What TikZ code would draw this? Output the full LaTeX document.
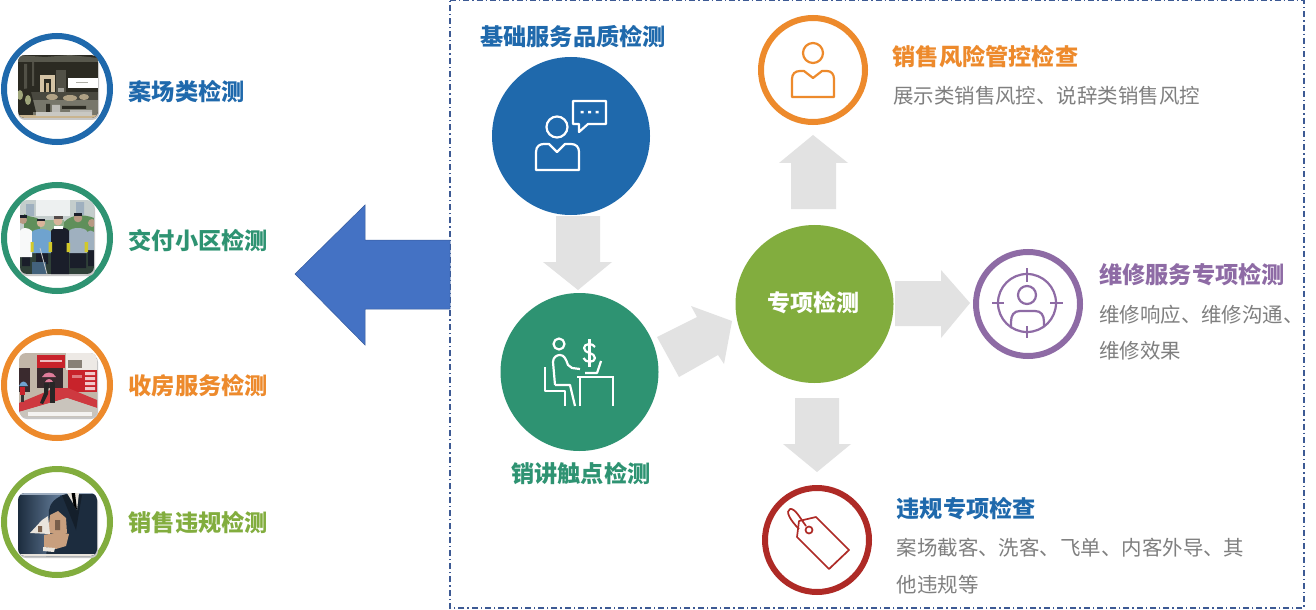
\documentclass[tikz,border=0pt]{standalone}
\usepackage{fontspec}
\setmainfont{Noto Sans CJK SC}
\definecolor{cblue}{HTML}{1F69AC}
\definecolor{cgreen}{HTML}{2E9372}
\definecolor{clime}{HTML}{82AD3E}
\definecolor{corange}{HTML}{ED8A2C}
\definecolor{cpurple}{HTML}{8E6BA5}
\definecolor{cred}{HTML}{AE2A26}
\definecolor{cgrey}{HTML}{E2E2E2}
\definecolor{ctext}{HTML}{7F7F7F}
\definecolor{carrow}{HTML}{4472C4}
\definecolor{cframe}{HTML}{3D5A94}
\definecolor{ph1}{HTML}{2B2A22}
\definecolor{ph2}{HTML}{77766A}
\definecolor{ph3}{HTML}{C9B48F}
\definecolor{ph4}{HTML}{C4CDCC}
\definecolor{ph5}{HTML}{5F8F5A}
\definecolor{ph6}{HTML}{1A1E2A}
\definecolor{ph7}{HTML}{6FA3CF}
\definecolor{ph8}{HTML}{9FB0BF}
\definecolor{ph9}{HTML}{D9B49A}
\definecolor{pa1}{HTML}{C2B6A8}
\definecolor{pa2}{HTML}{C8232B}
\definecolor{pa3}{HTML}{E07C9A}
\definecolor{pa4}{HTML}{3A2A2E}
\definecolor{pa5}{HTML}{C9C4BC}
\definecolor{pb1}{HTML}{3D5C80}
\definecolor{pb2}{HTML}{1C2C3E}
\definecolor{pb3}{HTML}{C89F7E}
\definecolor{pb4}{HTML}{E9E4DC}
\tikzset{
  disc/.style={circle,fill=#1,draw=none,minimum size=158bp,inner sep=0pt},
  ring/.style={circle,draw=#1,fill=white,line width=6bp,minimum size=104bp,inner sep=0pt},
  leftring/.style={circle,draw=#1,fill=white,line width=6bp,minimum size=106bp,inner sep=0pt},
  headtext/.style={inner sep=0pt,anchor=base west,font=\fontsize{23.2bp}{28bp}\selectfont\bfseries,text=#1},
  bodytext/.style={inner sep=0pt,anchor=base west,font=\fontsize{20.45bp}{24bp}\selectfont,text=ctext},
  blockarrow/.style={fill=cgrey,draw=none},
  icon/.style={draw=#1,line width=2.2bp,line join=round,fill=none},
  rim/.style={rounded corners=7bp},
  photoshadow/.style={fill=black!22,rounded corners=7bp},
}
\begin{document}
\begin{tikzpicture}[x=1bp,y=-1bp]
\useasboundingbox (0,0) rectangle (1316,610);
\fill[white] (0,0) rectangle (1316,610);

% dashed frame
\draw[cframe,line width=1.3bp,dash pattern=on 6bp off 3bp on 1.3bp off 3bp] (450,0.7) -- (1304,0.7) -- (1304,608) -- (450,608) -- cycle;

% big left arrow
\fill[carrow,draw=carrow!80!black,line width=.5bp] (295,274) -- (365,205) -- (365,240) -- (450,240) -- (450,309) -- (365,309) -- (365,345) -- cycle;

% grey block arrows
\fill[blockarrow] (556,216) -- (600,216) -- (600,262) -- (612,262) -- (578,290) -- (543,262) -- (556,262) -- cycle;
\fill[blockarrow] (657,337) -- (697,317) -- (691,306) -- (732,321) -- (724,364) -- (718,355) -- (679,377) -- cycle;
\fill[blockarrow] (791,209) -- (791,163) -- (779,163) -- (813,135) -- (848,163) -- (836,163) -- (836,209) -- cycle;
\fill[blockarrow] (895,281) -- (941,281) -- (941,270) -- (970,303) -- (941,338) -- (941,326) -- (895,326) -- cycle;
\fill[blockarrow] (795,398) -- (839,398) -- (839,444) -- (851,444) -- (817,472) -- (783,444) -- (795,444) -- cycle;

% filled circles
\node[disc=cblue] (base) at (571,136) {};
\node[disc=cgreen] (sales) at (579.5,372) {};
\node[disc=clime] (special) at (814.5,304) {};
\node[font=\fontsize{23bp}{28bp}\selectfont\bfseries,text=white,inner sep=0pt,anchor=base] (speciallabel) at (813,311.5) {专项检测};

% rings on the right
\node[ring=corange] (risk) at (813,70) {};
\node[ring=cpurple] (repair) at (1028,304) {};
\node[ring=cred] (viol) at (817,540) {};

% rings on the left
\node[leftring=cblue] (p1) at (57,89) {};
\node[leftring=cgreen] (p2) at (57,238) {};
\node[leftring=corange] (p3) at (57,385) {};
\node[leftring=clime] (p4) at (57,522) {};

% icon: person with speech bubble
\draw[icon=white] (557,127) circle (10.5);
\draw[icon=white] (536,170) -- (536,152) .. controls (536,146) and (540,144) .. (544,144) -- (549,144) -- (557,152) -- (565,144) -- (571,144) .. controls (576,144) and (579,147) .. (579,152) -- (579,170) -- cycle;
\draw[icon=white] (573,101) -- (606,101) -- (606,124) -- (588,124) -- (579,132) -- (579,124) -- (573,124) -- cycle;
\fill[white] (580.5,111) rectangle +(3,2.4) (588,111) rectangle +(3,2.4) (595.5,111) rectangle +(3,2.4);

% icon: person at a desk
\draw[icon=white] (559,344) circle (5.5);
\draw[icon=white] (555,385) -- (553,362) .. controls (553,357) and (557,355) .. (560,355) .. controls (564,355) and (566,359) .. (568,365) -- (572,368) -- (580,369);
\draw[icon=white] (555,385) -- (570,385) -- (575,406);
\draw[icon=white] (545,367) -- (545,391) -- (565,391) -- (565,406);
\draw[icon=white] (577,377) -- (614,377);
\draw[icon=white] (580,377) -- (580,406);
\draw[icon=white] (613,377) -- (613,406);
\draw[icon=white] (585,373) -- (597,373) -- (601,361);
\draw[icon=white] (595,347) .. controls (593,343) and (584,343) .. (584,348) .. controls (584,354) and (595,352) .. (595,358) .. controls (595,363) and (585,363) .. (583.5,358);
\draw[icon=white] (589.5,339) -- (589.5,367);

% icon: orange person
\draw[icon=corange] (813,53) circle (10);
\draw[icon=corange] (792,97) -- (792,79) .. controls (792,74) and (795,71) .. (800,71) -- (804,71) -- (813,78) -- (822,71) -- (827,71) .. controls (831,71) and (834,74) .. (834,79) -- (834,97) -- cycle;

% icon: target person
\draw[icon=cpurple] (1027,303) circle (29);
\draw[icon=cpurple] (1027,295) circle (9);
\draw[icon=cpurple] (1027,268) -- (1027,282);
\draw[icon=cpurple] (1027,326) -- (1027,338);
\draw[icon=cpurple] (992,303) -- (1004,303);
\draw[icon=cpurple] (1050,303) -- (1063,303);
\draw[icon=cpurple] (1011,328) -- (1011,322) .. controls (1011,315) and (1014,311) .. (1020,311) -- (1035,311) .. controls (1041,311) and (1044,315) .. (1044,322) -- (1044,327);

% icon: price tag
\draw[icon=cred,line width=1.7bp] (799,521) -- (816,517) -- (849,550) -- (829,569) -- (797,537) -- cycle;
\draw[icon=cred,line width=1.7bp] (809,530) circle (3.5);
\draw[icon=cred,line width=1.7bp] (806,526) .. controls (800,518) and (795,508) .. (790,509) .. controls (785,511) and (790,520) .. (799,529);

% photo 1: showroom
\fill[photoshadow] (18,57) rectangle (99,120);
\begin{scope}
\clip[rim] (18,55) rectangle (98,118);
\fill[ph1] (18,55) rectangle (98,118);
\fill[ph2!60!ph1] (18,55) -- (45,57) -- (70,55) -- (98,58) -- (98,62) -- (18,62) -- cycle;
\fill[ph2!50!ph1] (24,64) rectangle (27,90) (32,62) rectangle (34,86);
\fill[ph3!80!white] (40,75) rectangle (55,93);
\fill[ph1] (44,79) rectangle (51,93);
\fill[ph3] (46,83) rectangle (49,93);
\fill[ph2!50!ph1] (56,70) rectangle (66,92);
\fill[ph2!70!white] (58,88) rectangle (64,96);
\fill[ph2!40!ph1] (18,92) rectangle (98,100);
\fill[ph2] (33,100) rectangle (98,118);
\fill[ph3!70!ph2] (52,97) ellipse (6 and 3) (70,98) ellipse (7 and 3) (84,97) ellipse (5 and 3);
\fill[ph1] (46,104) rectangle (50,115) (62,106) rectangle (86,109);
\fill[ph2!50!white] (52,105) rectangle (60,112) (70,110) rectangle (92,116);
\fill[ph1] (18,90) -- (30,88) -- (36,112) -- (18,112) -- cycle;
\fill[ph3!60!ph5] (20,95) ellipse (3 and 5) (28,100) ellipse (3 and 5);
\fill[white] (68,78) rectangle (98,88);
\fill[ph2!60!white] (76,82.5) rectangle (88,83.5);
\fill[ph3] (18,115) rectangle (98,118);
\fill[ph2!40!white] (36,112) rectangle (92,116);
\end{scope}

% photo 2: staff
\fill[photoshadow] (20,202) rectangle (95,276);
\begin{scope}
\clip[rim] (20,200) rectangle (94,274);
\fill[ph4] (20,200) rectangle (94,274);
\fill[white!70!ph4] (36,200) rectangle (70,216);
\fill[ph8] (26,204) rectangle (34,216) (76,202) rectangle (84,215);
\fill[ph5] (24,214) .. controls (30,218) and (36,216) .. (40,220) -- (40,235) -- (24,235) -- cycle;
\fill[ph5] (64,222) .. controls (72,214) and (84,214) .. (94,218) -- (94,236) -- (64,236) -- cycle;
\fill[ph5!70!white] (40,220) rectangle (64,232);
\fill[ph6!70!ph5] (20,252) rectangle (94,274);
% legs
\fill[ph6] (22,252) rectangle (30,266) (36,252) rectangle (48,264) (70,252) rectangle (86,268) (88,250) rectangle (94,266);
% staff figures
\fill[white!88!ph4] (20,231) .. controls (22,227) and (28,227) .. (32,231) -- (32,257) -- (20,257) -- cycle;
\fill[ph9!85!black] (23,220) circle (4);
\fill[ph6] (19,215) rectangle (27,218);
\fill[ph7] (32,232) .. controls (35,228) and (47,228) .. (51,232) -- (51,253) -- (32,253) -- cycle;
\fill[ph9] (41,223) circle (4.2);
\fill[ph6] (36.8,218.5) rectangle (45.2,221);
\fill[ph8] (69,231) .. controls (72,227) and (84,227) .. (87,231) -- (87,253) -- (69,253) -- cycle;
\fill[ph9!85!black] (78,218) circle (4.3);
\fill[ph6] (73.7,213) rectangle (82.3,215.5);
\fill[ph8] (87,232) .. controls (89,230) and (92,230) .. (94,232) -- (94,250) -- (87,250) -- cycle;
\fill[ph9!85!black] (92,223) circle (4);
\fill[ph6] (51,231) .. controls (54,226) and (66,226) .. (69,231) -- (69,274) -- (51,274) -- cycle;
\fill[ph9] (58,221) circle (4.5);
\fill[ph6!70!ph9] (53.5,216) rectangle (62.5,219);
\fill[white] (54,226) rectangle (63,229);
\fill[yellow!80!black] (30.5,242) rectangle (33.5,252) (48.5,242) rectangle (52,252) (66.5,243) rectangle (70,252) (84.5,242) rectangle (88,252);
\fill[ph7!60!black] (32,262) rectangle (46,274);
\draw[white!80!black,line width=.8bp] (40,248) -- (47,274);
\end{scope}

% photo 3: sales office in the rain
\fill[photoshadow] (20,355) rectangle (98,419);
\begin{scope}
\clip[rim] (19,353) rectangle (97,417);
\fill[pa1] (19,353) rectangle (97,417);
\fill[white!70!pa1] (66,353) rectangle (97,370);
\fill[pa1!70!black] (68,360) rectangle (82,368);
\fill[pa2] (37,355) rectangle (65,368);
\fill[white!70!pa2] (40,360) rectangle (62,362);
\fill[pa4] (19,368) rectangle (30,392);
\fill[pa4] (37,368) rectangle (63,388);
\fill[pa2] (68,370) rectangle (97,392);
\fill[white!75!pa2] (85,372) rectangle (95,375) (85,377) rectangle (95,380) (85,382) rectangle (95,385) (85,387) rectangle (95,390);
\fill[white!40!pa2] (72,375) rectangle (82,378);
\fill[pa2!90!white] (19,412) -- (19,403) -- (55,388) -- (68,388) -- (97,400) -- (97,408) -- (67,398) -- cycle;
\fill[pa5] (19,412) -- (67,398) -- (97,408) -- (97,417) -- (19,417) -- cycle;
\fill[white!80!pa5] (28,412) rectangle (92,416);
\fill[pa3] (42,377) .. controls (45,371) and (53,371) .. (56,377) -- cycle;
\fill[pa3] (45,382) .. controls (47,378) and (51,378) .. (53,382) -- cycle;
\fill[ph7] (19,386) .. controls (21,380) and (26,380) .. (28,386) -- cycle;
\fill[black!85] (44,383) -- (49,383) -- (48,394) -- (43,404) -- (40,403) -- (44,393) -- cycle;
\fill[black!85] (50,382) rectangle (55,403);
\fill[pa2] (20,387) rectangle (25,395);
\fill[black!80] (21,395) rectangle (24,402);
\end{scope}

% photo 4: suit holding a house
\fill[photoshadow] (19,495) rectangle (98,558);
\begin{scope}
\clip[rim] (18,493) rectangle (97,556);
\shade[left color=pb2,right color=pb1!80!white] (18,493) rectangle (60,556);
\fill[pb1] (60,493) rectangle (97,556);
\fill[pb1!50!white] (18,493) rectangle (97,495);
\fill[pb2] (46,556) -- (48,540) -- (49,510) .. controls (50,503) and (56,497) .. (66,494) -- (97,494) -- (97,556) -- cycle;
\fill[pb2!70!black] (62,495) -- (76,530) -- (82,495) -- cycle;
\fill[pb4] (67,493) -- (79,493) -- (77,510) -- cycle;
\fill[black] (71.5,493) -- (75,493) -- (77,510) -- (73.5,505) -- cycle;
\fill[pb3] (44,535) -- (60,532) -- (69,534) -- (66,546) -- (56,549) -- (44,547) -- cycle;
\fill[pb4] (43,547) -- (55,548) -- (54,552) -- (43,551) -- cycle;
\fill[pb3] (48,533) -- (50,515) -- (58,511) -- (66,518) -- (67,533) -- cycle;
\fill[pb4] (30,533) -- (42,520) -- (48,516) -- (50,534) -- cycle;
\fill[pb3!60!black] (38,526) rectangle (42,532) (55,520) rectangle (60,530);
\fill[pb4] (18,554) rectangle (97,556);
\end{scope}

% labels on the left
\node[headtext=cblue] (t1) at (128.5,100.5) {案场类检测};
\node[headtext=cgreen] (t2) at (128.5,249.5) {交付小区检测};
\node[headtext=corange] (t3) at (128.5,394.5) {收房服务检测};
\node[headtext=clime] (t4) at (128.5,531.5) {销售违规检测};

% labels in the frame
\node[headtext=cblue] (t5) at (480,45.5) {基础服务品质检测};
\node[headtext=cgreen] (t6) at (511,482.5) {销讲触点检测};
\node[headtext=corange] (t7) at (892.5,65.3) {销售风险管控检查};
\node[bodytext] (t8) at (893,103.5) {展示类销售风控、说辞类销售风控};
\node[headtext=cpurple] (t9) at (1099,283.5) {维修服务专项检测};
\node[bodytext] (t10) at (1099,322.5) {维修响应、维修沟通、};
\node[bodytext] (t11) at (1099,358.5) {维修效果};
\node[headtext=cblue] (t12) at (896.5,517.5) {违规专项检查};
\node[bodytext] (t13) at (896.5,555.5) {案场截客、洗客、飞单、内客外导、其};
\node[bodytext] (t14) at (896.5,592.5) {他违规等};
\end{tikzpicture}
\end{document}
